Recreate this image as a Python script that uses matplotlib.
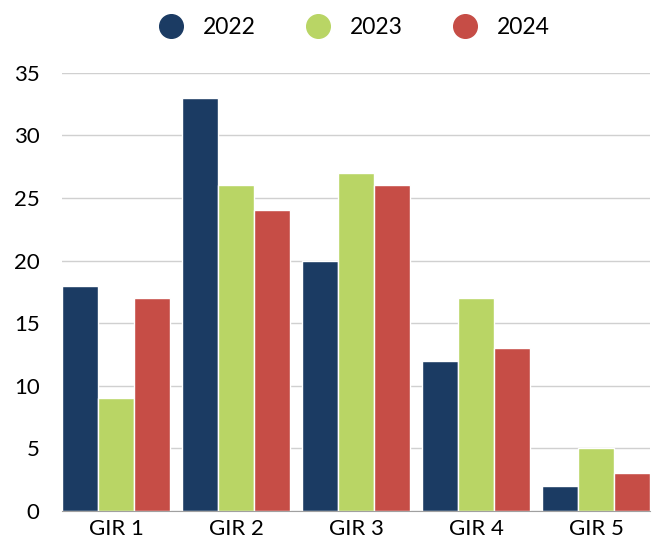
import numpy as np
import matplotlib
matplotlib.use("Agg")
import matplotlib.pyplot as plt

# data
groups = ["GIR 1", "GIR 2", "GIR 3", "GIR 4", "GIR 5"]
years = ["2022", "2023", "2024"]
v2022 = [18, 33, 20, 12, 2]
v2023 = [9, 26, 27, 17, 5]
v2024 = [17, 24, 26, 13, 3]
colors = ["#1b3b63", "#b9d565", "#c64d46"]

plt.rcParams["font.family"] = ["Lato", "DejaVu Sans"]

fig = plt.figure(figsize=(6.52, 5.43), dpi=100)
ax = fig.add_axes([0.095, 0.059, 0.902, 0.807])

x = np.arange(len(groups))
w = 0.3
for i, (vals, lab) in enumerate(zip([v2022, v2023, v2024], years)):
    ax.bar(x + (i - 1) * w, vals, width=w, color=colors[i], edgecolor="white",
           linewidth=1, label=lab, zorder=3)

ax.set_xlim(-0.45, 4.45)
ax.set_ylim(0, 35)
ax.set_yticks(range(0, 36, 5))
ax.set_xticks(x)
ax.set_xticklabels(groups)
ax.tick_params(axis="both", length=0, labelsize=16, colors="black")
ax.tick_params(axis="y", pad=16)
ax.tick_params(axis="x", pad=6)
ax.grid(axis="y", color="#d0d0d0", linewidth=1, zorder=0)
for s in ["top", "right", "left"]:
    ax.spines[s].set_visible(False)
ax.spines["bottom"].set_color("#a0a0a0")
ax.spines["bottom"].set_zorder(4)

handles = [plt.Line2D([], [], marker="o", linestyle="", markersize=17,
                      markerfacecolor=c, markeredgecolor=c) for c in colors]
fig.legend(handles, years, loc="center", bbox_to_anchor=(0.535, 0.95), ncol=3,
           frameon=False, fontsize=16.5, handletextpad=0.4, columnspacing=1.7)

fig.savefig("out.png", dpi=100)
